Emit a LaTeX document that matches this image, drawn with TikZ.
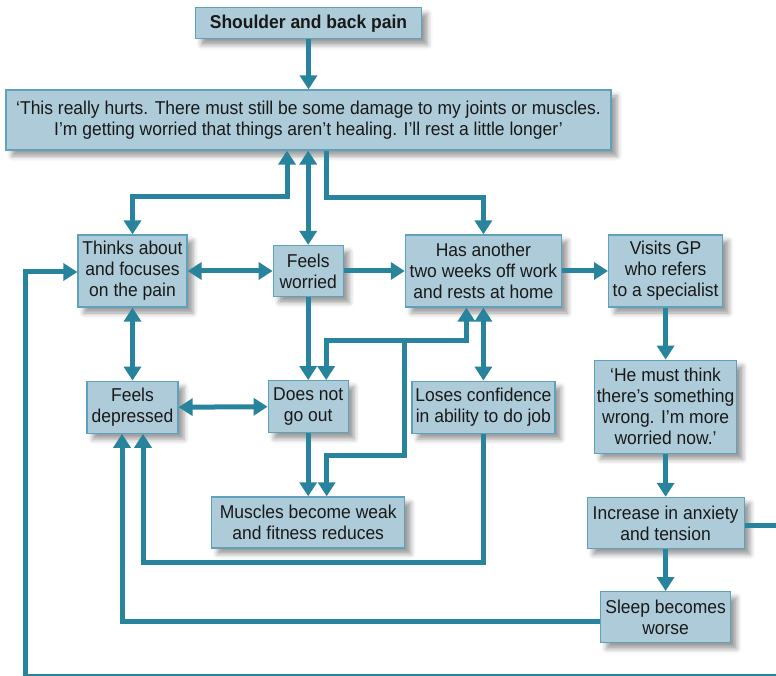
\documentclass[tikz,border=0pt]{standalone}
\usepackage{fontspec}
\setmainfont{Liberation Sans}[FakeStretch=0.94]
\usetikzlibrary{positioning,arrows.meta,shadows.blur}
\definecolor{boxfill}{RGB}{174,203,217}
\definecolor{boxline}{RGB}{95,160,186}
\definecolor{arrowteal}{RGB}{40,132,156}

\begin{document}
\begin{tikzpicture}[
    box/.style={rectangle, draw=boxline, fill=boxfill, line width=1.2pt, align=center, inner sep=0pt,
        text=black!90, font=\fontsize{18.6}{21}\selectfont,
        blur shadow={shadow xshift=6pt, shadow yshift=-6pt, shadow blur radius=5pt}},
    link/.style={draw=arrowteal, line width=5pt, -{Triangle[width=17pt,length=14pt]}},
    twoway/.style={link, {Triangle[width=17pt,length=14pt]}-{Triangle[width=17pt,length=14pt]}}
    ]
        \useasboundingbox (0,0) rectangle (776pt,-676pt);

        %Nodes
        \node[box, minimum width=605pt, minimum height=60pt]
            (quote) at (308.5pt,-120pt) {‘This really hurts. There must still be some damage to my joints or muscles.\\I’m getting worried that things aren’t healing. I’ll rest a little longer’};
        \node[box, minimum width=226pt, minimum height=31pt, font=\bfseries\fontsize{18.6}{21}\selectfont]
            (pain)      [above=50pt of quote]     {Shoulder and back pain};
        \node[box, minimum width=109pt, minimum height=72pt]
            (thinks) at (132.5pt,-271pt) {Thinks about\\and focuses\\on the pain};
        \node[box, minimum width=70pt, minimum height=51pt]
            (worried)   [right=85pt of thinks]    {Feels\\worried};
        \node[box, minimum width=156pt, minimum height=72pt]
            (rest)      [right=61pt of worried]   {Has another\\two weeks off work\\and rests at home};
        \node[box, minimum width=114pt, minimum height=72pt]
            (gp)        [right=46pt of rest]      {Visits GP\\who refers\\to a specialist};
        \node[box, minimum width=91pt, minimum height=52pt]
            (depressed) [below=73pt of thinks]    {Feels\\depressed};
        \node[box, minimum width=80pt, minimum height=52pt]
            (goout)     [below=83pt of worried]   {Does not\\go out};
        \node[box, minimum width=143pt, minimum height=52pt]
            (confidence) [below=73pt of rest]     {Loses confidence\\in ability to do job};
        \node[box, minimum width=142pt, minimum height=93pt]
            (think)     [below=52pt of gp]        {‘He must think\\there’s something\\wrong. I’m more\\worried now.’};
        \node[box, minimum width=193pt, minimum height=51pt]
            (muscles)   [below=63pt of goout]     {Muscles become weak\\and fitness reduces};
        \node[box, minimum width=157pt, minimum height=51pt]
            (anxiety)   [below=43pt of think]     {Increase in anxiety\\and tension};
        \node[box, minimum width=130pt, minimum height=51pt]
            (sleep)     [below=42pt of anxiety]   {Sleep becomes\\worse};
        \coordinate[below left=33pt and 79pt of rest.south] (split);

        %Lines
        \draw[link] (pain.south) -- (quote.north);
        \draw[twoway]
            (thinks.north) -- ++(0,38pt) -| ([xshift=-21.5pt]quote.south);
        \draw[twoway] (worried.north) -- (worried.north |- quote.south);
        \draw[link]
            ([xshift=17.5pt]quote.south) -- ++(0,-47pt) -| (rest.north);
        \draw[twoway] (thinks.east) -- (worried.west);
        \draw[link] (worried.east) -- (rest.west);
        \draw[link] (rest.east) -- (gp.west);
        \draw[link] (gp.south) -- (think.north);
        \draw[link] (think.south) -- (anxiety.north);
        \draw[link] (anxiety.south) -- (sleep.north);
        \draw[twoway] (thinks.south) -- (depressed.north);
        \draw[twoway] (depressed.east) -- (goout.west);
        \draw[link] (worried.south) -- (goout.north);
        \draw[twoway] (rest.south) -- (confidence.north);
        \draw[twoway]
            ([xshift=-17pt]rest.south) -- ++(0,-33pt) -| ([xshift=18pt]goout.north);
        \draw[link]
            (split) -- ++(0,-115pt) -| ([xshift=18.5pt]muscles.north);
        \draw[link] (goout.south) -- (muscles.north);
        \draw[link]
            (confidence.south) -- ++(0,-129pt) -| ([xshift=10.5pt]depressed.south);
        \draw[link]
            ([yshift=-4.5pt]sleep.west) -| ([xshift=-10.5pt]depressed.south);
        \draw[link]
            ([yshift=-2.5pt]anxiety.east) -- ++(60pt,0) -- ++(0,-151pt) -- ++(-779pt,0) |- ([yshift=-1pt]thinks.west);
    \end{tikzpicture}
\end{document}
